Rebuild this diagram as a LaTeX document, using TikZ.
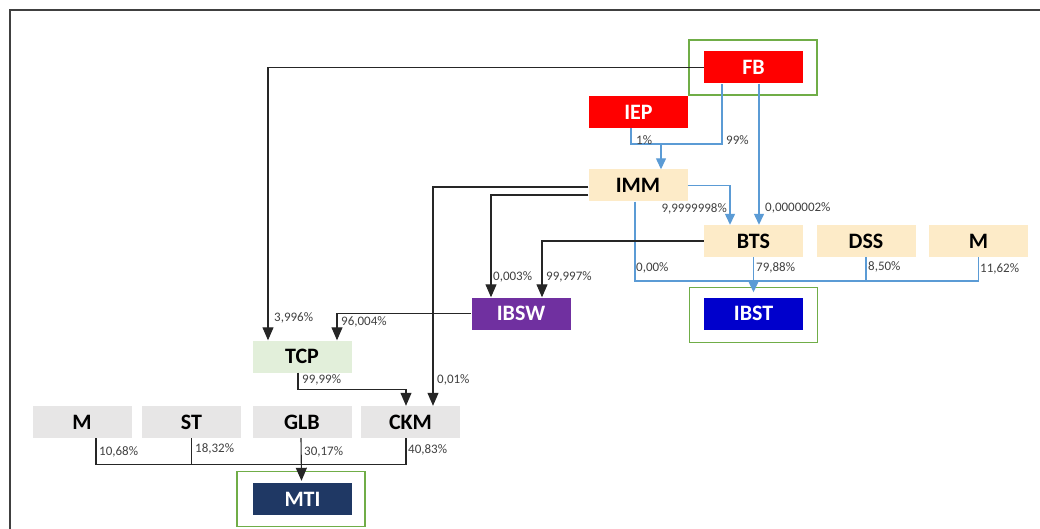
\documentclass[tikz,border=0pt]{standalone}
\usepackage{fontspec}
\setmainfont{Carlito}
\usepackage{xcolor}
\usepackage{tikz}
\usetikzlibrary{arrows.meta}

\definecolor{fbred}{HTML}{FF0000}
\definecolor{beige}{HTML}{FDEBC8}
\definecolor{palegreen}{HTML}{E2EFDA}
\definecolor{palegrey}{HTML}{E7E6E6}
\definecolor{swpurple}{HTML}{7030A0}
\definecolor{stblue}{HTML}{0000CC}
\definecolor{tinavy}{HTML}{1F3864}
\definecolor{framegreen}{HTML}{70AD47}
\definecolor{linkblue}{HTML}{5B9BD5}

\begin{document}
\begin{tikzpicture}[x=1pt, y=-1pt,
        box/.style={minimum width=99pt, minimum height=32pt, inner sep=0pt, font=\fontsize{22}{24}\selectfont\bfseries},
        frame/.style={draw=framegreen, line width=1.5pt, minimum width=128pt, minimum height=55pt, inner sep=0pt},
        link/.style={draw=black!85, line width=1.1pt},
        arr/.style={link, -{Triangle[width=11pt,length=13pt]}},
        blink/.style={draw=linkblue, line width=1.3pt},
        barr/.style={blink, -{Triangle[width=10pt,length=11pt]}},
        pct/.style={font=\fontsize{13}{14}\selectfont, text=black!75, inner sep=1pt, anchor=west}]
        \useasboundingbox (0,0) rectangle (1040,529);
        \draw[line width=1.5pt, black!75] (10,529) -- (10,10) -- (1040,10);

        % green frames
        \node (fbframe)   at (753,67.5)  [frame] {};
        \node (ibstframe) at (753.5,315) [frame] {};
        \node (mtiframe)  at (301,499)   [frame] {};

        % boxes
        \node (fb)    at (753.5,67.5)  [box, fill=fbred, text=white]    {FB};
        \node (iep)   at (638.5,112)   [box, fill=fbred, text=white]    {IEP};
        \node (imm)   at (638,185.5)   [box, fill=beige]                {IMM};
        \node (bts)   at (753.5,241)   [box, fill=beige]                {BTS};
        \node (dss)   at (866,241)     [box, fill=beige]                {DSS};
        \node (mr)    at (978.5,241)   [box, fill=beige]                {M};
        \node (ibst)  at (753.5,313.5) [box, fill=stblue, text=white]   {IBST};
        \node (ibsw)  at (521,313.5)   [box, fill=swpurple, text=white] {IBSW};
        \node (tcp)   at (302,356.5)   [box, fill=palegreen]            {TCP};
        \node (mb)    at (82,422)      [box, fill=palegrey]             {M};
        \node (st)    at (191.5,422)   [box, fill=palegrey]             {ST};
        \node (glb)   at (302,422)     [box, fill=palegrey]             {GLB};
        \node (ckm)   at (410.5,422)   [box, fill=palegrey]             {CKM};
        \node (mti)   at (302.5,499)   [box, fill=tinavy, text=white]   {MTI};

        \coordinate (jn)   at (661,144);
        \coordinate (busr) at (0,281);
        \coordinate (busb) at (0,464);

        % blue links
        \draw[blink] ([xshift=-7.5pt]iep.south) |- (jn) -| ([xshift=-31.5pt]fb.south);
        \draw[barr]  (jn) -- (jn |- imm.north);
        \draw[barr]  ([xshift=5.5pt]fb.south) -- ([xshift=5.5pt]bts.north);
        \draw[barr]  (imm.east) -| ([xshift=-23.5pt]bts.north);
        \draw[blink] ([xshift=-3pt]imm.south) |- (mr.south |- busr) -- (mr.south);
        \draw[blink] (dss.south) -- (dss.south |- busr);
        \draw[barr]  (bts.south) -- ([yshift=5pt]ibst.north);

        % black links
        \draw[arr] (fb.west) -| ([xshift=-34pt]tcp.north);
        \draw[arr] ([yshift=-1.5pt]imm.west) -| ([xshift=22.5pt]ckm.north);
        \draw[arr] ([yshift=-9.5pt]imm.west) -| ([xshift=-30pt]ibsw.north);
        \draw[arr] (bts.west) -| ([xshift=21pt]ibsw.north);
        \draw[arr] (ibsw.west) -| ([xshift=35pt]tcp.north);
        \draw[arr] ([xshift=-4pt]tcp.south) -- ++(0,17) -| ([xshift=-4.5pt]ckm.north);
        \draw[link] ([xshift=14pt]mb.south) -- ++(0,26) -| ([xshift=-4.5pt]ckm.south);
        \draw[link] (st.south) -- (st.south |- busb);
        \draw[arr] ([xshift=-1pt]glb.south) -- ([xshift=-1pt, yshift=2pt]mti.north);

        % shares
        \node (p1)  at (635,140) [pct] {1\%};
        \node (p2)  at (725,140) [pct] {99\%};
        \node (p3)  at (728,209) [pct, anchor=east] {9,9999998\%};
        \node (p4)  at (764,208) [pct] {0,0000002\%};
        \node (p5)  at (635,268) [pct] {0,00\%};
        \node (p6)  at (755,268) [pct] {79,88\%};
        \node (p7)  at (867,267) [pct] {8,50\%};
        \node (p8)  at (979,269) [pct] {11,62\%};
        \node (p9)  at (492,277) [pct] {0,003\%};
        \node (p10) at (545,277) [pct] {99,997\%};
        \node (p11) at (273,318) [pct] {3,996\%};
        \node (p12) at (340,322) [pct] {96,004\%};
        \node (p13) at (301,380) [pct] {99,99\%};
        \node (p14) at (436,380) [pct] {0,01\%};
        \node (p15) at (98,452)  [pct] {10,68\%};
        \node (p16) at (194,449) [pct] {18,32\%};
        \node (p17) at (303,452) [pct] {30,17\%};
        \node (p18) at (407,450) [pct] {40,83\%};
    \end{tikzpicture}
\end{document}
